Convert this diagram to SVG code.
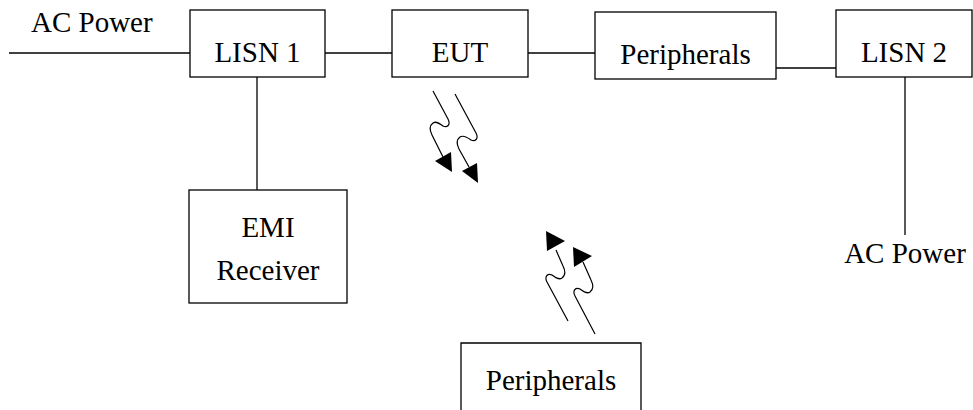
<svg xmlns="http://www.w3.org/2000/svg" width="973" height="410" viewBox="0 0 973 410">
<style>
  .box { fill: #fff; stroke: #000; stroke-width: 1.3; }
  .ln { fill: none; stroke: #000; stroke-width: 1.3; }
  .wave { fill: none; stroke: #000; stroke-width: 1.2; }
  .ah { fill: #000; stroke: none; }
  text { font-family: "Liberation Serif", "Times New Roman", serif; font-size: 29px; fill: #000; }
  .c { text-anchor: middle; }
</style>
<rect width="973" height="410" fill="#fff"/>
<g id="connectors">
  <line class="ln" x1="9" y1="53" x2="190" y2="53"/>
  <line class="ln" x1="325" y1="53" x2="392" y2="53"/>
  <line class="ln" x1="528" y1="53" x2="595" y2="53"/>
  <line class="ln" x1="776" y1="68" x2="836" y2="68"/>
  <line class="ln" x1="257" y1="77" x2="257" y2="190"/>
  <line class="ln" x1="905" y1="77" x2="905" y2="235"/>
  <path class="wave" d="M433,91 L448,119 C451,125 447,128 443,126 C439,123 436,121 433,123 C429,126 430,131 432,135 L443,157"/>
  <polygon class="ah" points="435,161 451,152 452,172"/>
  <path class="wave" d="M455,94 L476,133 C479,139 475,142 471,140 C467,137 463,135 460,137 C456,140 457,145 459,149 L469,167"/>
  <polygon class="ah" points="462,171 477,163 478,183"/>
  <path class="wave" d="M568,321 L547,282 C544,276 548,273 552,275 C556,278 559,280 562,278 C566,275 565,270 563,266 L556,250"/>
  <polygon class="ah" points="547,251 565,241 546,231"/>
  <path class="wave" d="M595,334 L575,296 C572,290 576,287 580,289 C584,292 587,294 590,292 C594,289 593,284 591,280 L583,262"/>
  <polygon class="ah" points="574,267 592,256 573,247"/>
</g>
<g id="ac-power-left"><text x="31" y="32">AC Power</text></g>
<g id="lisn1"><rect class="box" x="190" y="10" width="135" height="67"/><text class="c" x="257.5" y="62">LISN 1</text></g>
<g id="eut"><rect class="box" x="392" y="10" width="136" height="67"/><text class="c" x="460" y="62">EUT</text></g>
<g id="peripherals-top"><rect class="box" x="595" y="12" width="181" height="67"/><text class="c" x="685.5" y="64">Peripherals</text></g>
<g id="lisn2"><rect class="box" x="836" y="10" width="136" height="67"/><text class="c" x="904" y="62">LISN 2</text></g>
<g id="emi-receiver"><rect class="box" x="189" y="190" width="158" height="113"/><text class="c" x="268" y="237">EMI</text><text class="c" x="268" y="280">Receiver</text></g>
<g id="ac-power-right"><text class="c" x="905" y="263">AC Power</text></g>
<g id="peripherals-bottom"><path class="ln" d="M461,412 L461,343 L641,343 L641,412"/><text class="c" x="551" y="390">Peripherals</text></g>
</svg>
